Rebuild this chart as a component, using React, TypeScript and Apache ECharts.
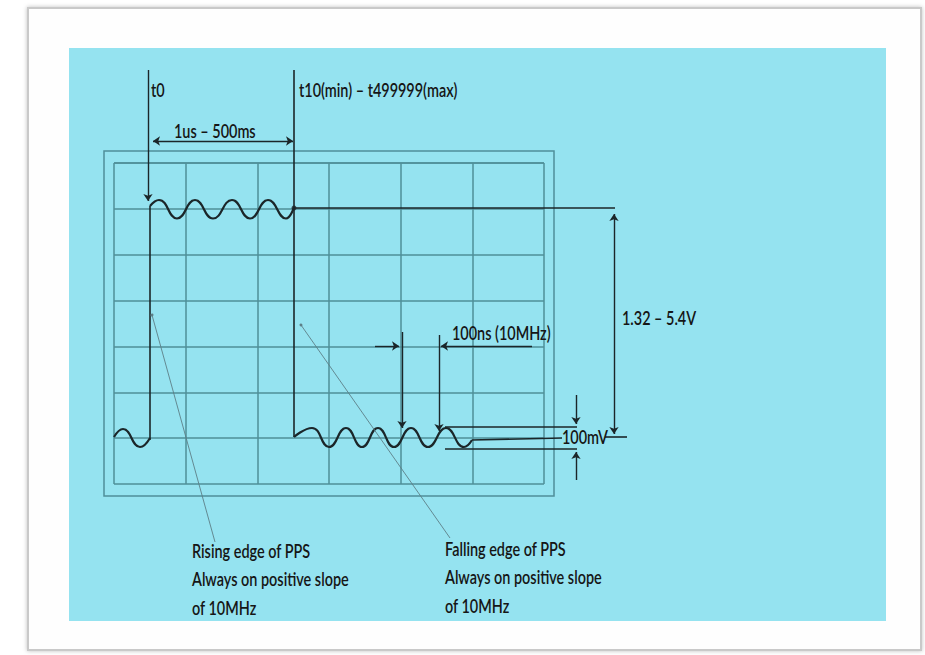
import React, { useEffect, useRef } from "react";
import * as echarts from "echarts";

// Axis units: pixels measured from the lower-left corner of the scope grid (x right, y up)
const GRID_W = 430;
const GRID_H = 321;
const X_DIVISIONS = 6;
const Y_DIVISIONS = 7;

// 10 MHz waveform, read as crest / trough points
const upperWave = [[36, 278], [45, 284], [63, 265.5], [81, 284], [99, 265.5], [118, 284], [136, 265.5], [154, 284], [172, 265.5], [180, 277]];
const lowerLeftWave = [[0, 47], [9, 55], [26, 37], [36, 46]];
const lowerRightWave = [[180, 47], [198, 56], [215, 37], [232, 56], [248, 37], [264, 56], [280, 37], [297, 56], [314, 37], [332, 56], [350, 37], [358, 44]];

// plain segments
const plainSegments = [
  [[180, 276], [501, 276]],
  [[180, 414], [180, 47]],
  [[36, 44], [36, 278]],
  [[331, 57], [463, 57]],
  [[331, 35], [463, 35]],
  [[358, 44], [448, 46]],
  [[491, 47], [513, 47]],
];
// segments with an arrow at the end
const arrowSegments = [
  [[34, 414], [34, 283]],
  [[288, 152], [288, 56]],
  [[325, 149], [325, 53]],
  [[261, 138], [285, 138]],
  [[418, 138], [327, 138]],
  [[462, 89], [462, 60]],
  [[462, 4], [462, 32]],
];
// dimension arrows (both ends)
const dimensionSegments = [
  [[39, 343], [179, 343]],
  [[500, 270], [500, 50]],
];
// annotation leader lines
const leaderSegments = [
  [[38, 169], [101, -58]],
  [[187, 159], [336, -54]],
];
const dots = [[180, 276]];

const labelTexts = [
  { text: "t0", x: 151, y: 90 },
  { text: "t10(min) – t499999(max)", x: 299, y: 90 },
  { text: "1us – 500ms", x: 174, y: 131 },
  { text: "100ns (10MHz)", x: 452, y: 333 },
  { text: "1.32 – 5.4V", x: 622, y: 318 },
  { text: "100mV", x: 562, y: 437 },
];
const noteTexts = [
  { text: "Rising edge of PPS\nAlways on positive slope\nof 10MHz", x: 192, y: 537 },
  { text: "Falling edge of PPS\nAlways on positive slope\nof 10MHz", x: 445, y: 535 },
];

const FONT_FAMILY = "Lato, 'Liberation Sans', sans-serif";
const FONT_SIZE = 18.5;
const TEXT_SCALE_X = 0.78;
const INK = "#1b2629";
const GRIDC = "#4f8f99";

export default function App() {
  const ref = useRef<HTMLDivElement>(null);
  useEffect(() => {
    if (!ref.current) return;
    const chart = echarts.init(ref.current, undefined, { renderer: "svg" });
    const toLines = (segs: number[][][]) => segs.map((s) => ({ coords: s }));
    const waveSeries = (data: number[][]) => ({
      type: "line",
      data,
      smooth: 0.5,
      showSymbol: false,
      symbol: "none",
      clip: false,
      silent: true,
      lineStyle: { color: INK, width: 2.2 },
      z: 5,
    });
    const linesSeries = (segs: number[][][], symbol: any, width: number, color: string, size = 7) => ({
      type: "lines",
      coordinateSystem: "cartesian2d",
      data: toLines(segs),
      symbol,
      symbolSize: size,
      clip: false,
      silent: true,
      lineStyle: { color, width, opacity: 1, curveness: 0 },
      itemStyle: { color },
      z: 6,
    });
    const textEl = (t: any, lh?: number) => ({
      type: "text",
      x: t.x,
      y: t.y,
      scaleX: TEXT_SCALE_X,
      z: 20,
      silent: true,
      style: {
        text: t.text,
        fill: "#161616",
        font: `600 ${FONT_SIZE}px ${FONT_FAMILY}`,
        fontSize: FONT_SIZE,
        fontWeight: 600,
        fontFamily: FONT_FAMILY,
        align: "left",
        textAlign: "left",
        verticalAlign: lh ? "top" : "middle",
        textVerticalAlign: lh ? "top" : "middle",
        lineHeight: lh || 22,
      },
    });
    chart.setOption({
      animation: false,
      backgroundColor: "#ffffff",
      grid: { left: 114, top: 163, width: GRID_W, height: GRID_H, show: false },
      xAxis: {
        type: "value",
        min: 0,
        max: GRID_W,
        interval: GRID_W / X_DIVISIONS,
        axisLine: { show: false },
        axisTick: { show: false },
        axisLabel: { show: false },
        splitLine: { show: true, lineStyle: { color: GRIDC, width: 1.5 } },
      },
      yAxis: {
        type: "value",
        min: 0,
        max: GRID_H,
        interval: GRID_H / Y_DIVISIONS,
        axisLine: { show: false },
        axisTick: { show: false },
        axisLabel: { show: false },
        splitLine: { show: true, lineStyle: { color: GRIDC, width: 1.5 } },
      },
      graphic: [
        {
          type: "rect",
          z: -10,
          silent: true,
          shape: { x: 28, y: 8, width: 893, height: 642 },
          style: { fill: "#fefefe", stroke: "#c9c9c9", lineWidth: 2, shadowBlur: 4, shadowColor: "rgba(0,0,0,0.25)" },
        },
        {
          type: "rect",
          z: -9,
          silent: true,
          shape: { x: 69, y: 48, width: 817, height: 573 },
          style: { fill: "#95e3f0" },
        },
        {
          type: "rect",
          z: -8,
          silent: true,
          shape: { x: 104, y: 151, width: 450, height: 345 },
          style: { fill: "none", stroke: GRIDC, lineWidth: 1.5 },
        },
        ...labelTexts.map((t) => textEl(t)),
        ...noteTexts.map((t) => textEl(t, 28.5)),
      ],
      series: [
        waveSeries(upperWave),
        waveSeries(lowerLeftWave),
        waveSeries(lowerRightWave),
        linesSeries(plainSegments, ["none", "none"], 1.6, INK),
        linesSeries(arrowSegments, ["none", "arrow"], 1.4, INK),
        linesSeries(dimensionSegments, ["arrow", "arrow"], 1.4, INK),
        linesSeries(leaderSegments, ["circle", "none"], 0.9, "#5d7f87", 3),
        {
          type: "scatter",
          data: dots,
          symbolSize: 5,
          silent: true,
          clip: false,
          itemStyle: { color: INK },
          z: 7,
        },
      ],
    });
    return () => chart.dispose();
  }, []);
  return <div ref={ref} style={{ position: "absolute", left: 0, top: 0, width: 925, height: 655 }} />;
}
